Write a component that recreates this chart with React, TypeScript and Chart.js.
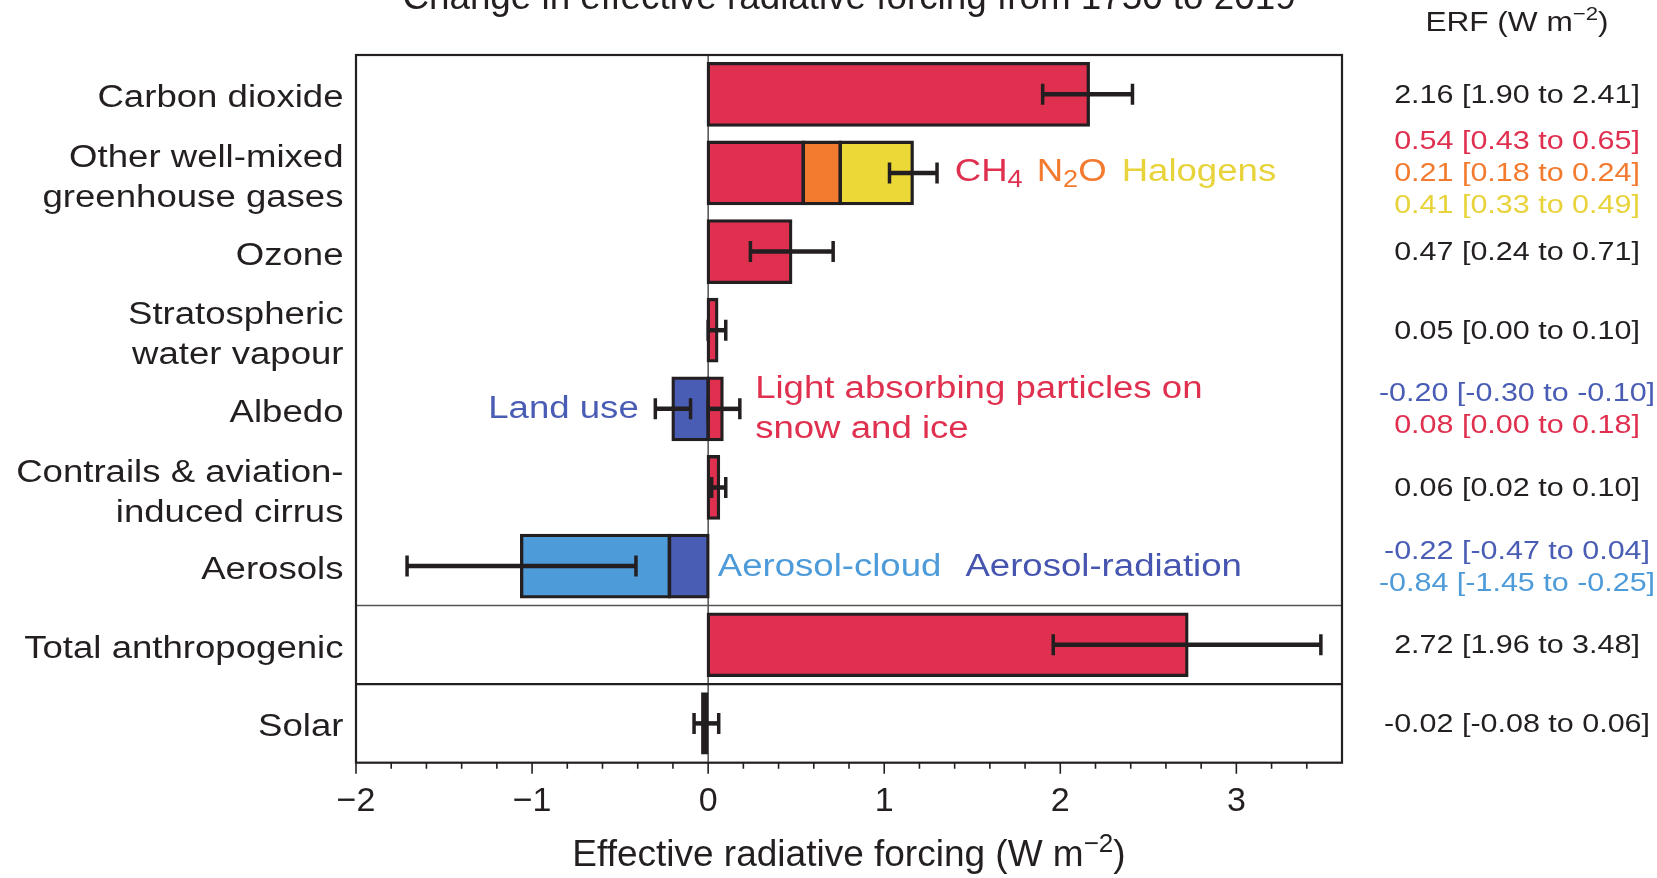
import React, { useEffect, useRef } from 'react';
import { Chart, registerables } from 'chart.js';

Chart.register(...registerables);

const FONT = '"Liberation Sans", Arial, Helvetica, sans-serif';
const INK = '#231F20';
const RED = '#E0304F';
const ORANGE = '#F37B2F';
const YELLOW = '#ECD837';
const YELLOW_TEXT = '#E8D33B';
const DARK_BLUE = '#4A5DB5';
const LIGHT_BLUE = '#4E9BDA';

// ---- data ----
const categories: string[][] = [
  ['Carbon dioxide'],
  ['Other well-mixed', 'greenhouse gases'],
  ['Ozone'],
  ['Stratospheric', 'water vapour'],
  ['Albedo'],
  ['Contrails & aviation-', 'induced cirrus'],
  ['Aerosols'],
  ['Total anthropogenic'],
  ['Solar'],
];

// first stacked segment of each row (CO2, CH4, ozone, strat. H2O, snow LAP, contrails, aerosol-radiation, total, solar)
const primaryValues = [2.16, 0.54, 0.47, 0.05, 0.08, 0.06, -0.22, 2.72, -0.02];
const primaryColors = [RED, RED, RED, RED, RED, RED, DARK_BLUE, RED, INK];
// second segment (N2O, land use, aerosol-cloud)
const secondValues = [null, 0.21, null, null, -0.2, null, -0.84, null, null];
const secondColors = [RED, ORANGE, RED, RED, DARK_BLUE, RED, LIGHT_BLUE, RED, INK];
// third segment (halogens)
const thirdValues = [null, 0.41, null, null, null, null, null, null, null];
const thirdColors = [YELLOW, YELLOW, YELLOW, YELLOW, YELLOW, YELLOW, YELLOW, YELLOW, YELLOW];

// uncertainty ranges drawn as error bars
const errRow = [0, 1, 2, 3, 4, 4, 5, 6, 7, 8];
const errLow = [1.9, 1.03, 0.24, 0.0, -0.3, 0.0, 0.02, -1.71, 1.96, -0.08];
const errHigh = [2.41, 1.3, 0.71, 0.1, -0.1, 0.18, 0.1, -0.41, 3.48, 0.06];

// right-hand ERF column
const erfRow = [0, 1, 1, 1, 2, 3, 4, 4, 5, 6, 6, 7, 8];
const erfLine = [0, -1, 0, 1, 0, 0, -0.5, 0.5, 0, -0.5, 0.5, 0, 0];
const erfBest = [2.16, 0.54, 0.21, 0.41, 0.47, 0.05, -0.2, 0.08, 0.06, -0.22, -0.84, 2.72, -0.02];
const erfLow = [1.9, 0.43, 0.18, 0.33, 0.24, 0.0, -0.3, 0.0, 0.02, -0.47, -1.45, 1.96, -0.08];
const erfHigh = [2.41, 0.65, 0.24, 0.49, 0.71, 0.1, -0.1, 0.18, 0.1, 0.04, -0.25, 3.48, 0.06];
const erfColors = [INK, RED, ORANGE, YELLOW_TEXT, INK, INK, DARK_BLUE, RED, INK, DARK_BLUE, LIGHT_BLUE, INK, INK];

// x axis
const xMin = -2;
const xMax = 3.6;
const xStep = 0.2;
const xMajor = [-2, -1, 0, 1, 2, 3];

const TITLE = 'Change in effective radiative forcing from 1750 to 2019';
const XTITLE = 'Effective radiative forcing (W m';
const ERF_HEAD = 'ERF (W m';

// ---- drawing helpers ----
type Run = { text: string; size: number; color: string; dy?: number; gap?: number };

function drawRuns(ctx: CanvasRenderingContext2D, runs: Run[], x: number, y: number, align: string, sx: number) {
  let total = 0;
  const widths: number[] = [];
  for (const r of runs) {
    ctx.font = `${r.size}px ${FONT}`;
    const w = ctx.measureText(r.text).width * sx;
    widths.push(w);
    total += (r.gap || 0) + w;
  }
  let cx = align === 'left' ? x : align === 'right' ? x - total : x - total / 2;
  runs.forEach((r, i) => {
    cx += r.gap || 0;
    ctx.save();
    ctx.font = `${r.size}px ${FONT}`;
    ctx.fillStyle = r.color;
    ctx.textAlign = 'left';
    ctx.textBaseline = 'alphabetic';
    ctx.translate(cx, y + (r.dy || 0));
    ctx.scale(sx, 1);
    ctx.fillText(r.text, 0, 0);
    ctx.restore();
    cx += widths[i];
  });
  return cx;
}

const fmt = (v: number) => v.toFixed(2);
const tiny = (c: any) => Math.abs(Number(c.raw)) < 0.03;

const overlay = {
  id: 'overlay',
  beforeDatasetsDraw(chart: any) {
    const { ctx, chartArea } = chart;
    const xs = chart.scales.x;
    const x0 = xs.getPixelForValue(0);
    ctx.save();
    ctx.strokeStyle = '#333';
    ctx.lineWidth = 1.3;
    ctx.beginPath();
    ctx.moveTo(x0, chartArea.top);
    ctx.lineTo(x0, chartArea.bottom);
    ctx.stroke();
    ctx.restore();
  },
  afterDatasetsDraw(chart: any) {
    const { ctx, chartArea } = chart;
    const xs = chart.scales.x;
    const ys = chart.scales.y;
    ctx.save();
    // error bars
    ctx.strokeStyle = INK;
    errRow.forEach((row, i) => {
      const y = ys.getPixelForTick(row);
      const a = xs.getPixelForValue(errLow[i]);
      const b = xs.getPixelForValue(errHigh[i]);
      ctx.lineWidth = 4.5;
      ctx.beginPath();
      ctx.moveTo(a, y);
      ctx.lineTo(b, y);
      ctx.stroke();
      ctx.lineWidth = 3.5;
      ctx.beginPath();
      ctx.moveTo(a, y - 10.5);
      ctx.lineTo(a, y + 10.5);
      ctx.moveTo(b, y - 10.5);
      ctx.lineTo(b, y + 10.5);
      ctx.stroke();
    });
    // separators
    const sep1 = (ys.getPixelForTick(6) + ys.getPixelForTick(7)) / 2;
    const sep2 = (ys.getPixelForTick(7) + ys.getPixelForTick(8)) / 2;
    ctx.strokeStyle = '#555';
    ctx.lineWidth = 1.6;
    ctx.beginPath();
    ctx.moveTo(chartArea.left, sep1);
    ctx.lineTo(chartArea.right, sep1);
    ctx.stroke();
    ctx.strokeStyle = INK;
    ctx.lineWidth = 2.2;
    ctx.beginPath();
    ctx.moveTo(chartArea.left, sep2);
    ctx.lineTo(chartArea.right, sep2);
    ctx.stroke();
    // frame
    ctx.lineWidth = 2.2;
    ctx.strokeRect(chartArea.left, chartArea.top, chartArea.right - chartArea.left, chartArea.bottom - chartArea.top);
    // tick marks
    ctx.lineWidth = 1.6;
    ctx.beginPath();
    xs.ticks.forEach((t: any) => {
      if (t.value > xMax - xStep / 2) return;
      const px = xs.getPixelForValue(t.value);
      const major = xMajor.some((m) => Math.abs(m - t.value) < 1e-6);
      ctx.moveTo(px, chartArea.bottom);
      ctx.lineTo(px, chartArea.bottom + (major ? 11 : 6));
    });
    ctx.stroke();
    ctx.restore();
  },
  afterDraw(chart: any) {
    const { ctx, chartArea } = chart;
    const xs = chart.scales.x;
    const ys = chart.scales.y;
    const cx = (chartArea.left + chartArea.right) / 2;
    ctx.save();
    // title (cut at the top edge, as in the source)
    drawRuns(ctx, [{ text: TITLE, size: 36.8, color: INK }], cx, 9, 'center', 1);
    // ERF header
    drawRuns(
      ctx,
      [
        { text: ERF_HEAD, size: 27, color: INK },
        { text: '\u22122', size: 19, color: INK, dy: -11 },
        { text: ')', size: 27, color: INK },
      ],
      1517,
      31,
      'center',
      1.17
    );
    // x-axis title
    drawRuns(
      ctx,
      [
        { text: XTITLE, size: 37, color: INK },
        { text: '\u22122', size: 26, color: INK, dy: -14 },
        { text: ')', size: 37, color: INK },
      ],
      cx,
      866,
      'center',
      1
    );
    // category labels
    categories.forEach((lines, i) => {
      const yc = ys.getPixelForTick(i);
      if (lines.length === 1) {
        drawRuns(ctx, [{ text: lines[0], size: 31, color: INK }], chartArea.left - 12.5, yc + 2 + 11.1, 'right', 1.18);
      } else {
        lines.forEach((ln, k) => {
          drawRuns(ctx, [{ text: ln, size: 31, color: INK }], chartArea.left - 12.5, yc - 17 + k * 40 + 11.1, 'right', 1.18);
        });
      }
    });
    // ERF column
    erfRow.forEach((row, i) => {
      const yc = ys.getPixelForTick(row) - 1 + erfLine[i] * 32;
      const txt = `${fmt(erfBest[i])} [${fmt(erfLow[i])} to ${fmt(erfHigh[i])}]`;
      drawRuns(ctx, [{ text: txt, size: 26.5, color: erfColors[i] }], 1517, yc + 9.5, 'center', 1.15);
    });
    // annotations
    const yGhg = ys.getPixelForTick(1);
    drawRuns(
      ctx,
      [
        { text: 'CH', size: 31, color: RED },
        { text: '4', size: 23, color: RED, dy: 6 },
        { text: 'N', size: 31, color: ORANGE, gap: 14 },
        { text: '2', size: 23, color: ORANGE, dy: 6 },
        { text: 'O', size: 31, color: ORANGE },
        { text: 'Halogens', size: 31, color: YELLOW_TEXT, gap: 15 },
      ],
      xs.getPixelForValue(errHigh[1]) + 17.7,
      yGhg + 8.5,
      'left',
      1.18
    );
    const yAlb = ys.getPixelForTick(4);
    drawRuns(ctx, [{ text: 'Land use', size: 31, color: DARK_BLUE }], xs.getPixelForValue(errLow[4]) - 16.6, yAlb + 9.5, 'right', 1.18);
    drawRuns(ctx, [{ text: 'Light absorbing particles on', size: 31, color: RED }], xs.getPixelForValue(errHigh[5]) + 15.3, yAlb - 11, 'left', 1.18);
    drawRuns(ctx, [{ text: 'snow and ice', size: 31, color: RED }], xs.getPixelForValue(errHigh[5]) + 15.3, yAlb + 29, 'left', 1.18);
    const yAer = ys.getPixelForTick(6);
    const endCloud = drawRuns(ctx, [{ text: 'Aerosol-cloud', size: 31, color: LIGHT_BLUE }], xs.getPixelForValue(0) + 9.6, yAer + 9.5, 'left', 1.18);
    drawRuns(ctx, [{ text: 'Aerosol-radiation', size: 31, color: '#4656B0' }], endCloud + 24, yAer + 9.5, 'left', 1.18);
    ctx.restore();
  },
};

export default function App() {
  const ref = useRef<HTMLCanvasElement | null>(null);
  useEffect(() => {
    const canvas = ref.current;
    if (!canvas) return;
    const common = {
      borderColor: INK,
      // very thin bars (solar) are drawn as a solid dark sliver
      borderWidth: (c: any) => (tiny(c) ? 0 : 3.3),
      borderSkipped: false,
      inflateAmount: (c: any) => (tiny(c) ? 0 : 1.5),
      categoryPercentage: 0.785,
      barPercentage: 1,
    };
    const chart = new Chart(canvas, {
      type: 'bar',
      data: {
        labels: categories.map((c) => c.join(' ')),
        datasets: [
          { label: 'Primary', data: primaryValues, backgroundColor: primaryColors, minBarLength: 7, ...common },
          { label: 'Second', data: secondValues, backgroundColor: secondColors, ...common },
          { label: 'Third', data: thirdValues, backgroundColor: thirdColors, ...common },
        ],
      } as any,
      options: {
        indexAxis: 'y',
        animation: false,
        responsive: false,
        maintainAspectRatio: false,
        layout: { padding: { top: 55, right: 315, left: 0, bottom: 0 } },
        plugins: { legend: { display: false }, tooltip: { enabled: false }, title: { display: false } },
        scales: {
          x: {
            type: 'linear',
            min: xMin,
            max: xMax,
            stacked: true,
            grid: { display: false, drawTicks: false },
            border: { display: false },
            ticks: {
              stepSize: xStep,
              autoSkip: false,
              maxRotation: 0,
              minRotation: 0,
              maxTicksLimit: 100,
              padding: 19,
              color: INK,
              font: { family: FONT, size: 34 },
              callback: (v: any) => {
                const n = Number(v);
                const m = xMajor.find((t) => Math.abs(t - n) < 1e-6);
                if (m === undefined) return '';
                return m < 0 ? `\u2212${Math.abs(m)}` : `${m}`;
              },
            },
            afterFit: (s: any) => {
              s.height = 115.3;
            },
          },
          y: {
            type: 'category',
            stacked: true,
            offset: true,
            grid: { display: false, drawTicks: false },
            border: { display: false },
            ticks: { display: false },
            afterFit: (s: any) => {
              s.width = 356;
            },
          },
        },
      } as any,
      plugins: [overlay],
    });
    return () => chart.destroy();
  }, []);
  return (
    <div style={{ position: 'absolute', left: 0, top: 0, width: 1657, height: 878, background: '#fff' }}>
      <canvas ref={ref} width={1657} height={878} />
    </div>
  );
}
